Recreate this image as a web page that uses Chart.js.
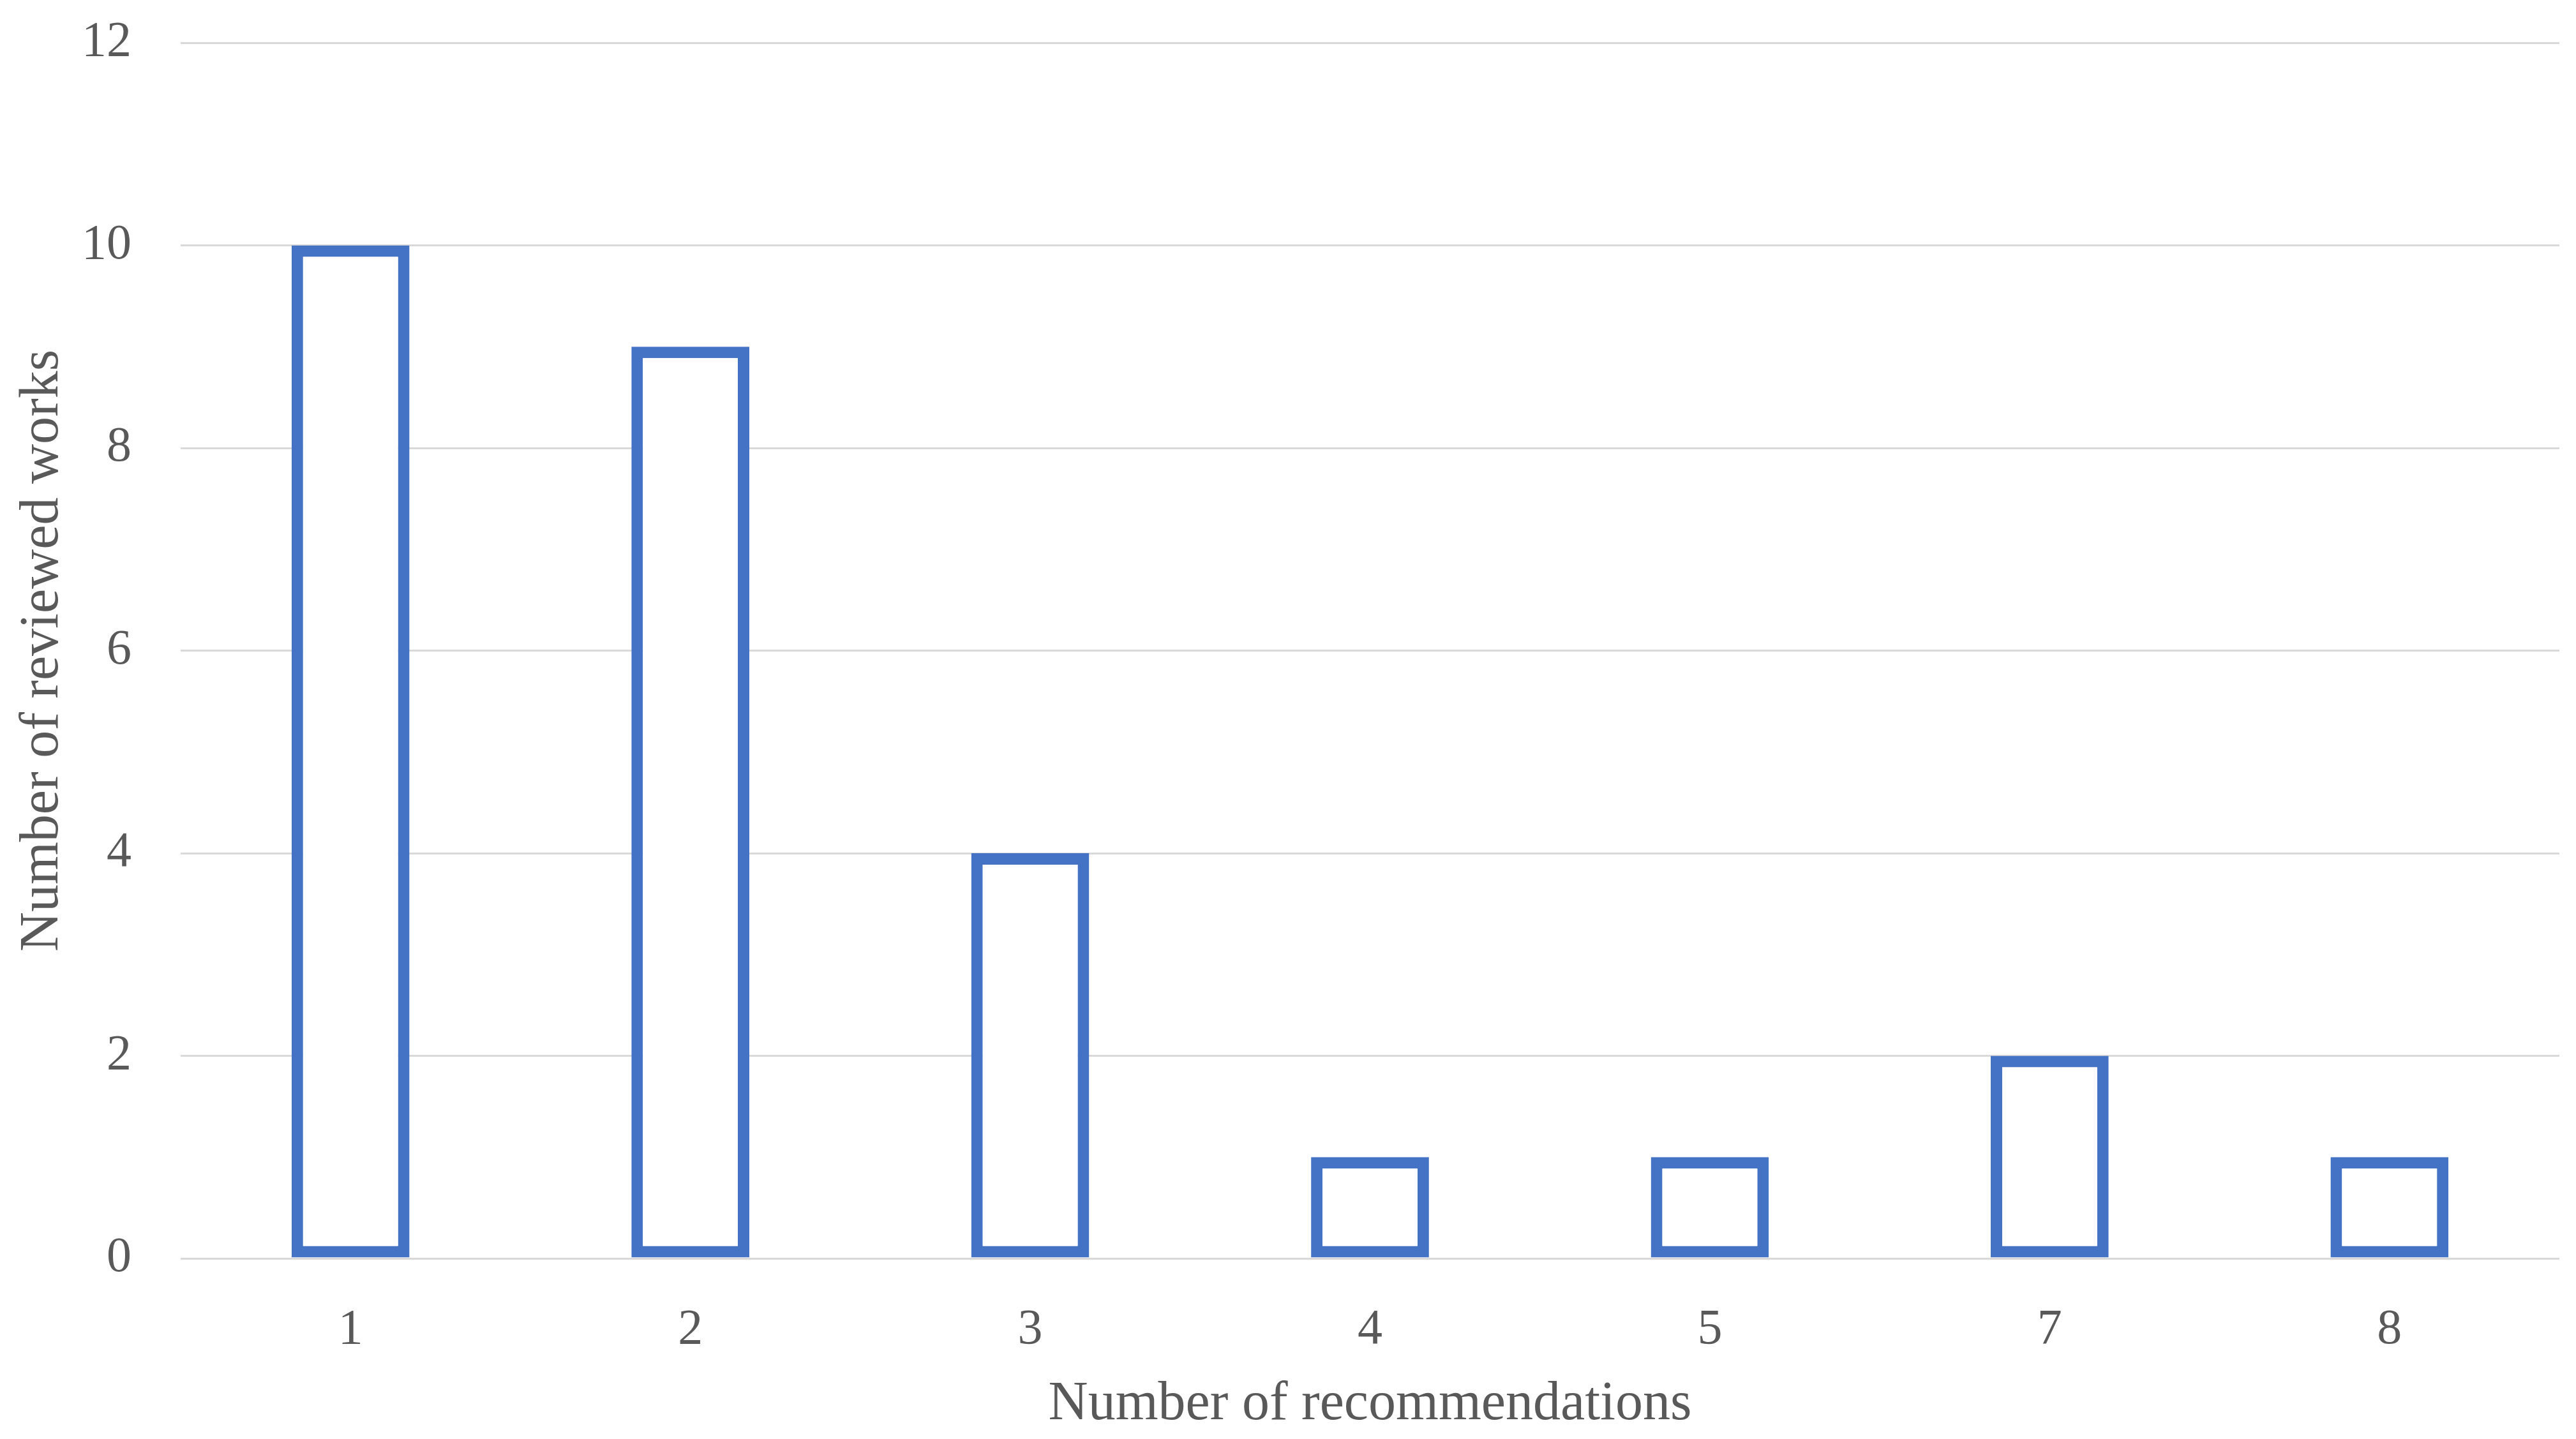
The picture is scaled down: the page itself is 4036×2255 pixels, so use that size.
<!DOCTYPE html>
<html>
<head>
<meta charset="utf-8">
<script src="https://cdn.jsdelivr.net/npm/chart.js@4"></script>
<style>
  html, body { margin: 0; padding: 0; background: #ffffff; }
  #wrap { width: 4036px; height: 2255px; position: relative; }
</style>
</head>
<body>
<div id="wrap"><canvas id="chart"></canvas></div>
<script>
// Dados
const categories = ['1', '2', '3', '4', '5', '7', '8'];
const reviewedWorks = [10, 9, 4, 1, 1, 2, 1];
const yMin = 0;
const yMax = 12;
const yStep = 2;

const textColor = '#595959';
const fontFamily = '"Liberation Serif", "DejaVu Serif", serif';

const ctx = document.getElementById('chart').getContext('2d');

new Chart(ctx, {
    type: 'bar',
    data: {
        labels: categories,
        datasets: [{
            label: 'Number of reviewed works',
            data: reviewedWorks,
            backgroundColor: '#ffffff',
            borderColor: '#4472C4',
            borderWidth: 18,
            borderSkipped: false,
            barPercentage: 0.347,
            categoryPercentage: 1
        }]
    },
    options: {
        responsive: true,
        maintainAspectRatio: false,
        animation: false,
        layout: {
            padding: { top: 67, right: 26, bottom: 0, left: 0 }
        },
        plugins: {
            legend: { display: false },
            tooltip: { enabled: false }
        },
        scales: {
            x: {
                grid: { display: false, drawTicks: false },
                border: { display: false },
                ticks: {
                    color: textColor,
                    font: { family: fontFamily, size: 78 },
                    padding: 66
                },
                title: {
                    display: true,
                    text: 'Number of recommendations',
                    color: textColor,
                    font: { family: fontFamily, size: 86 },
                    padding: { top: 0, bottom: 2 }
                },
                afterFit: function(scale) { scale.height = 283; }
            },
            y: {
                min: yMin,
                max: yMax,
                ticks: {
                    stepSize: yStep,
                    color: textColor,
                    font: { family: fontFamily, size: 78 },
                    padding: 77
                },
                grid: { color: '#d9d9d9', lineWidth: 3, drawTicks: false },
                border: { display: false },
                title: {
                    display: true,
                    text: 'Number of reviewed works',
                    color: textColor,
                    font: { family: fontFamily, size: 86 },
                    padding: { top: 16, bottom: 0 }
                },
                afterFit: function(scale) {
                    // o padding dos ticks empurrava a área do gráfico para baixo
                    scale.width = 283;
                    scale.paddingTop = 0;
                    scale.paddingBottom = 0;
                }
            }
        }
    }
});
</script>
</body>
</html>
